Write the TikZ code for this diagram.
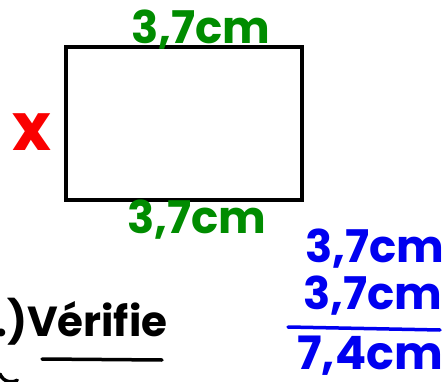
\documentclass[tikz,border=0pt]{standalone}
\usepackage{fontspec}
\setmainfont{Poppins}
\definecolor{pgreen}{RGB}{0,140,0}
\definecolor{pblue}{RGB}{0,0,240}
\definecolor{pred}{RGB}{250,0,0}
\tikzset{
  hand/.style={inner sep=0pt, font=\fontsize{45}{45}\selectfont\bfseries},
  pen/.style={line width=3.5pt, line cap=round},
}
\begin{document}
\begin{tikzpicture}[x=1pt,y=-1pt]
\useasboundingbox (0,0) rectangle (444,382);
% rectangle
\draw[line width=3.5pt] (66,47) rectangle (302,200);
% labels
\node[hand, text=pgreen] (top) at (201,30) {3,7cm};
\node[hand, text=pgreen] (bot) at (197,220) {3,7cm};
\node[hand, text=pred, font=\fontsize{66}{66}\selectfont\bfseries] (xx) at (32,132) {x};
% verifie
\node[hand, anchor=west, font=\fontsize{42}{42}\selectfont\bfseries] (ver) at (-5,322) {.)Vérifie};
\draw[pen] (42,359) -- (162,360);
\draw[pen] (0,374) arc[start angle=160, end angle=60, radius=12];
% blue sum
\node[hand, text=pblue] (a1) at (375,249) {3,7cm};
\node[hand, text=pblue] (a2) at (373,296) {3,7cm};
\draw[pen, pblue] (288,327) -- (440,330);
\node[hand, text=pblue, font=\fontsize{46}{46}\selectfont\bfseries] (res) at (370,356) {7,4cm};
\end{tikzpicture}
\end{document}
